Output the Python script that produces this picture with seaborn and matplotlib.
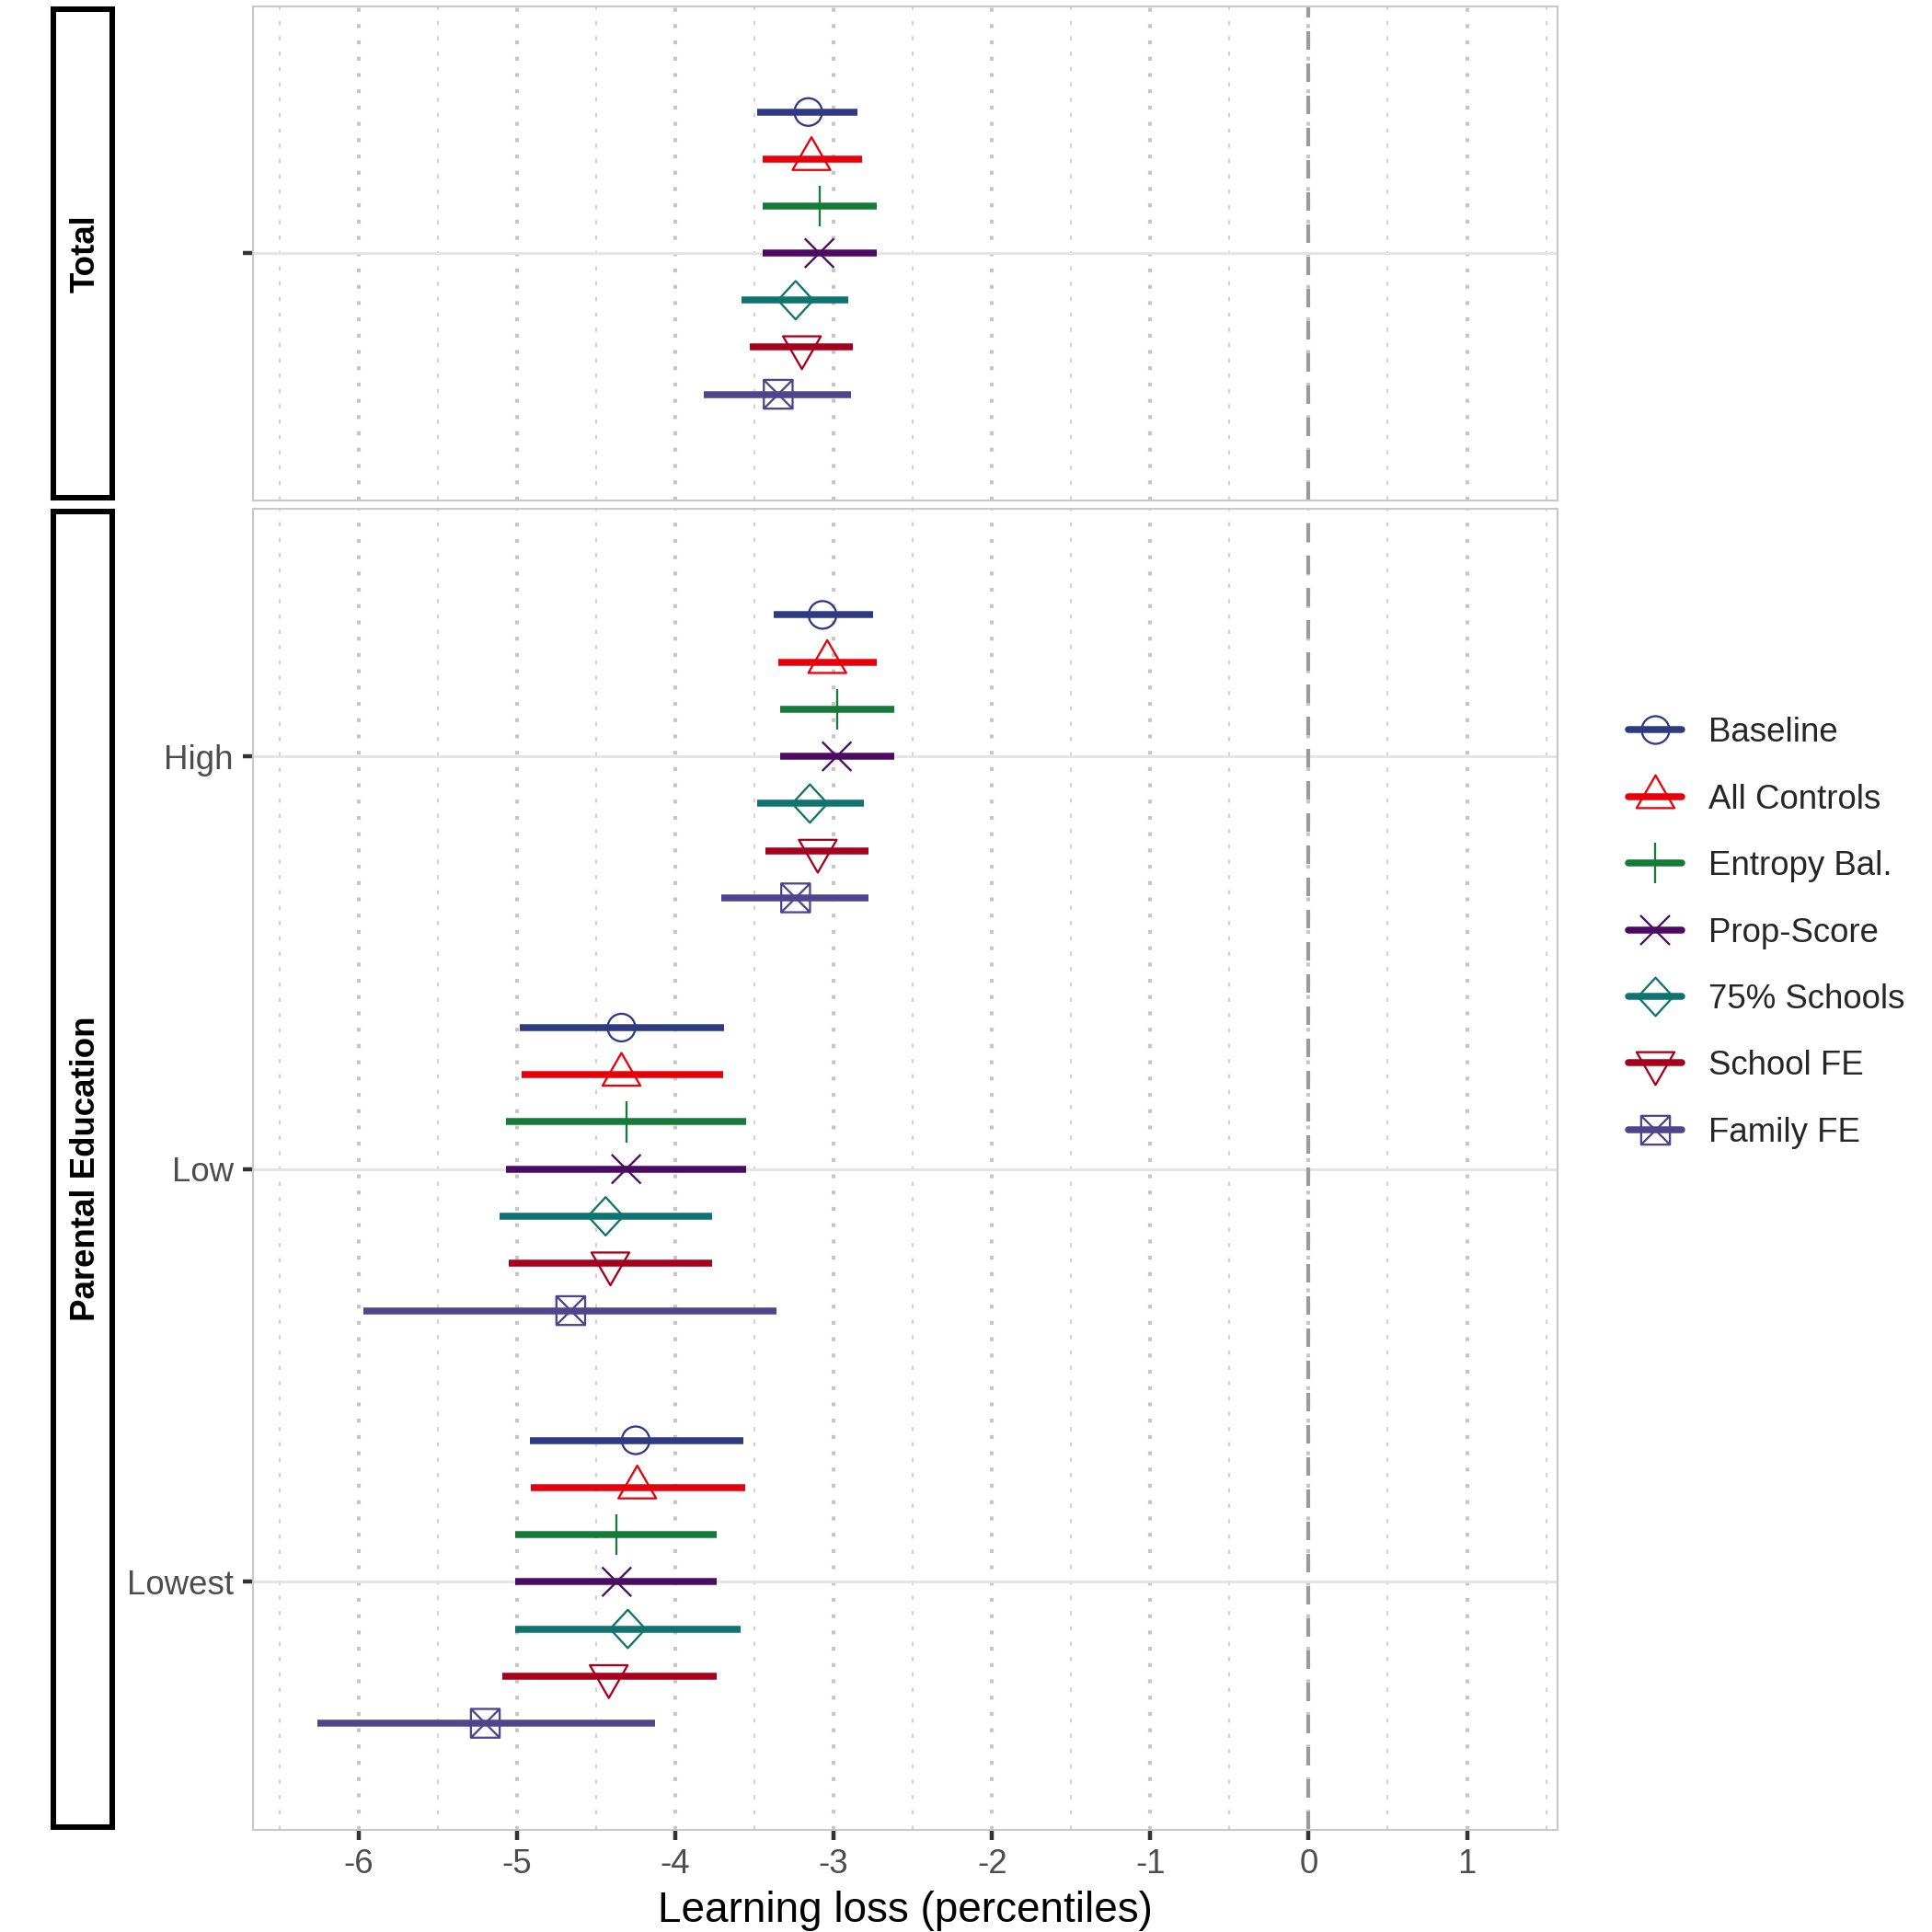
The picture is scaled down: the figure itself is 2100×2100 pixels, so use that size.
import numpy as np
import pandas as pd
import matplotlib
matplotlib.use("Agg")
import matplotlib.pyplot as plt
from matplotlib.path import Path
from matplotlib.markers import MarkerStyle
from matplotlib.lines import Line2D
from matplotlib.ticker import MultipleLocator
import seaborn as sns

# data (learning loss, percentiles)
methods = ["Baseline", "All Controls", "Entropy Bal.", "Prop-Score",
           "75% Schools", "School FE", "Family FE"]
groups = ["Total", "High", "Low", "Lowest"]
panels = ["Total", "Parental Education", "Parental Education", "Parental Education"]

# point estimates, per method, in the order of groups
est_baseline = [-3.16, -3.07, -4.34, -4.25]
est_allctrl = [-3.14, -3.04, -4.34, -4.24]
est_entropy = [-3.09, -2.98, -4.31, -4.37]
est_pscore = [-3.09, -2.98, -4.31, -4.37]
est_75 = [-3.24, -3.15, -4.44, -4.30]
est_schoolfe = [-3.20, -3.10, -4.41, -4.42]
est_familyfe = [-3.35, -3.24, -4.66, -5.20]

lo_baseline = [-3.48, -3.38, -4.98, -4.92]
lo_allctrl = [-3.45, -3.35, -4.97, -4.91]
lo_entropy = [-3.45, -3.34, -5.07, -5.01]
lo_pscore = [-3.45, -3.34, -5.07, -5.01]
lo_75 = [-3.58, -3.48, -5.11, -5.01]
lo_schoolfe = [-3.53, -3.43, -5.05, -5.09]
lo_familyfe = [-3.82, -3.71, -5.97, -6.26]

hi_baseline = [-2.85, -2.75, -3.69, -3.57]
hi_allctrl = [-2.82, -2.73, -3.70, -3.56]
hi_entropy = [-2.73, -2.62, -3.55, -3.74]
hi_pscore = [-2.73, -2.62, -3.55, -3.74]
hi_75 = [-2.91, -2.81, -3.77, -3.59]
hi_schoolfe = [-2.88, -2.78, -3.77, -3.74]
hi_familyfe = [-2.89, -2.78, -3.36, -4.13]

estimates = [est_baseline, est_allctrl, est_entropy, est_pscore, est_75, est_schoolfe, est_familyfe]
lowers = [lo_baseline, lo_allctrl, lo_entropy, lo_pscore, lo_75, lo_schoolfe, lo_familyfe]
uppers = [hi_baseline, hi_allctrl, hi_entropy, hi_pscore, hi_75, hi_schoolfe, hi_familyfe]

colors = ["#2E3B82", "#E8000B", "#167A38", "#4C0A64", "#0F7370", "#A6001C", "#4E458D"]

# build long table
rows = []
for i, m in enumerate(methods):
    for j, g in enumerate(groups):
        rows.append(dict(method=m, group=g, panel=panels[j],
                         est=estimates[i][j], lo=lowers[i][j], hi=uppers[i][j]))
df = pd.DataFrame(rows)

# y position: category index in its panel + dodge (width 0.8)
cat_pos = {"Total": 0, "High": 2, "Low": 1, "Lowest": 0}
dodge = 0.8 / len(methods)
df["ypos"] = [cat_pos[g] + (3 - methods.index(m)) * dodge for g, m in zip(df.group, df.method)]

# markers
sq_cross = Path([(-1, -1), (1, -1), (1, 1), (-1, 1), (-1, -1), (-1, -1), (1, 1), (-1, 1), (1, -1)],
                [Path.MOVETO, Path.LINETO, Path.LINETO, Path.LINETO, Path.CLOSEPOLY,
                 Path.MOVETO, Path.LINETO, Path.MOVETO, Path.LINETO])
tri_up = Path([(0, 0.667), (-0.577, -0.333), (0.577, -0.333), (0, 0.667)],
              [Path.MOVETO, Path.LINETO, Path.LINETO, Path.CLOSEPOLY])
tri_dn = Path([(0, -0.667), (-0.577, 0.333), (0.577, 0.333), (0, -0.667)],
              [Path.MOVETO, Path.LINETO, Path.LINETO, Path.CLOSEPOLY])
diamond = Path([(0, 1), (-0.92, 0), (0, -1), (0.92, 0), (0, 1)],
               [Path.MOVETO, Path.LINETO, Path.LINETO, Path.LINETO, Path.CLOSEPOLY])
markers = ["o", tri_up, "+", "x", diamond, tri_dn, sq_cross]
msizes = [7.2, 11.4, 10.6, 7.6, 10.0, 11.4, 7.5]

sns.set_theme(style="white")
plt.rcParams["font.family"] = ["Liberation Sans", "DejaVu Sans"]
plt.rcParams["lines.scale_dashes"] = False

fig = plt.figure(figsize=(7, 7), dpi=300)
W = H = 2100.0
left, right = 274.5 / W, 1692.6 / W
ax_top = fig.add_axes([left, 1 - 543.6 / H, right - left, (543.6 - 6.7) / H])
ax_bot = fig.add_axes([left, 1 - 1988.5 / H, right - left, (1988.5 - 553) / H])

grey_txt = "#4D4D4D"
for ax, pan in [(ax_top, "Total"), (ax_bot, "Parental Education")]:
    sub = df[df.panel == pan]
    for i, m in enumerate(methods):
        s = sub[sub.method == m]
        ax.hlines(s.ypos, s.lo, s.hi, color=colors[i], lw=1.8, zorder=3)
        sns.scatterplot(data=s, x="est", y="ypos", ax=ax, color=colors[i],
                        marker=MarkerStyle(markers[i], fillstyle="none"),
                        s=msizes[i] ** 2, linewidth=0.55, zorder=4, legend=False)
    ax.axvline(0, color="#9A9A9A", lw=1.0, ls=(0, (4.8, 3.6)), zorder=2)
    ax.set_xlim(-6.67, 1.57)
    ax.xaxis.set_major_locator(MultipleLocator(1))
    ax.xaxis.set_minor_locator(MultipleLocator(0.5))
    ax.grid(axis="x", which="major", color="#C6C6C6", lw=1.0, ls=(0, (1.0, 3.25)))
    ax.grid(axis="x", which="minor", color="#D2D2D2", lw=0.5, ls=(0, (1.1, 2.9)))
    ax.grid(axis="y", which="major", color="#E4E4E4", lw=0.7, ls="-")
    ax.set_axisbelow(True)
    for sp in ax.spines.values():
        sp.set_color("#C8C8C8")
        sp.set_linewidth(0.5)
    ax.tick_params(axis="both", which="major", length=2.75, width=1.07, color="#333333",
                   labelsize=8.8, labelcolor=grey_txt, pad=2.2, left=True, bottom=True)
    ax.tick_params(axis="x", which="minor", length=0)
    ax.set_ylabel("")
    ax.set_xlabel("")

ax_top.set_ylim(-0.6, 0.6)
ax_top.set_yticks([0], [""])
ax_top.tick_params(axis="x", bottom=False, labelbottom=False)

ax_bot.set_ylim(-0.6, 2.6)
ax_bot.set_yticks([0, 1, 2], ["Lowest", "Low", "High"])
ax_bot.set_xticks(range(-6, 2), [str(v) for v in range(-6, 2)])
ax_bot.set_xlabel("Learning loss (percentiles)", fontsize=11, color="black", labelpad=2.5)

# facet strips on the left
for top_px, bot_px, label in [(6.7, 543.6, "Total"), (553, 1988.5, "Parental Education")]:
    sax = fig.add_axes([58 / W, 1 - (bot_px - 3) / H, 64 / W, (bot_px - top_px - 6) / H])
    sax.set_xticks([])
    sax.set_yticks([])
    sax.set_facecolor("white")
    for sp in sax.spines.values():
        sp.set_color("black")
        sp.set_linewidth(1.45)
    sax.text(0.55, 0.5, label, rotation=90, ha="center", va="center",
             fontsize=8.8, fontweight="bold", color="black", transform=sax.transAxes)

# legend
handles = [Line2D([0], [0], color=colors[i], lw=1.8, marker=markers[i], markersize=msizes[i],
                  markerfacecolor="none", markeredgecolor=colors[i], markeredgewidth=0.55)
           for i in range(len(methods))]
fig.legend(handles, methods, loc="center left", bbox_to_anchor=(1770 / W, 1 - 1014 / H),
           frameon=False, fontsize=8.8, handlelength=1.58, handletextpad=0.8,
           labelspacing=1.02, borderpad=0, borderaxespad=0)

fig.savefig("out.png", dpi=300)
